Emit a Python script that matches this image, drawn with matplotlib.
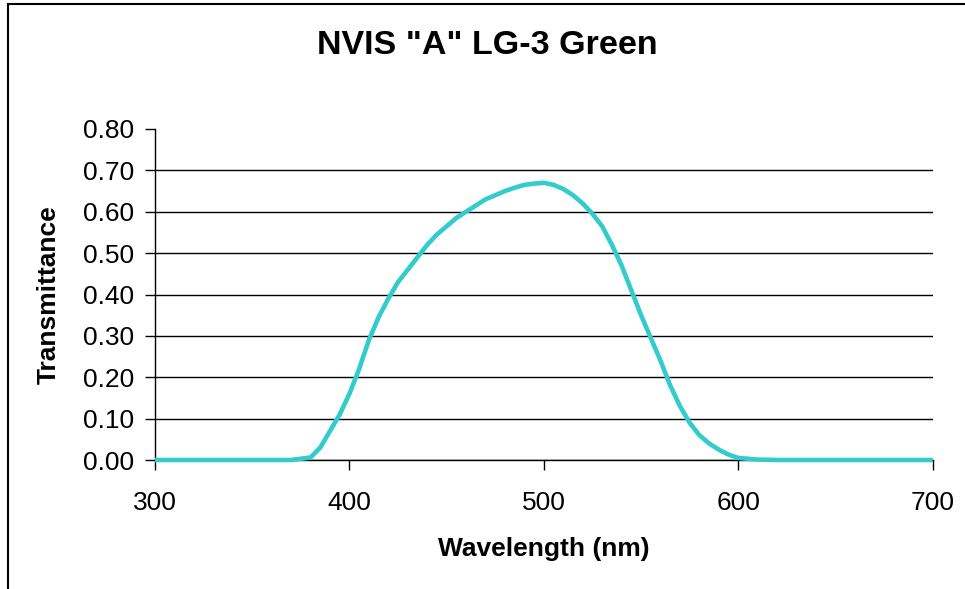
import matplotlib
matplotlib.use('Agg')
import matplotlib.pyplot as plt
from matplotlib.patches import Rectangle

# transmittance curve (5 nm steps over the band)
wavelength = [300, 310, 320, 330, 340, 350, 360, 370, 380, 385,
              390, 395, 400, 405, 410, 415, 420, 425, 430, 435,
              440, 445, 450, 455, 460, 465, 470, 475, 480, 485,
              490, 495, 500, 505, 510, 515, 520, 525, 530, 535,
              540, 545, 550, 555, 560, 565, 570, 575, 580, 585,
              590, 595, 600, 610, 620, 630, 640, 650, 660, 670,
              680, 690, 700]
transmittance = [0.0, 0.0, 0.0, 0.0, 0.0, 0.0, 0.0, 0.0, 0.006, 0.03,
                 0.07, 0.11, 0.16, 0.22, 0.29, 0.345, 0.39, 0.43, 0.46, 0.49,
                 0.52, 0.545, 0.565, 0.585, 0.60, 0.615, 0.63, 0.64, 0.65, 0.658,
                 0.665, 0.668, 0.67, 0.665, 0.655, 0.64, 0.62, 0.595, 0.565, 0.52,
                 0.47, 0.41, 0.35, 0.295, 0.24, 0.18, 0.13, 0.09, 0.06, 0.04,
                 0.025, 0.013, 0.005, 0.001, 0.0, 0.0, 0.0, 0.0, 0.0, 0.0,
                 0.0, 0.0, 0.0]

x_ticks = [300, 400, 500, 600, 700]
y_ticks = [0.0, 0.1, 0.2, 0.3, 0.4, 0.5, 0.6, 0.7, 0.8]

plt.rcParams['font.family'] = ['Liberation Sans', 'DejaVu Sans']

fig = plt.figure(figsize=(9.65, 5.89), dpi=100)
ax = fig.add_axes([155 / 965, 1 - 460 / 589, (932.7 - 155) / 965, (460 - 129) / 589])

ax.plot(wavelength, transmittance, color='#33CCCC', lw=3.3, solid_joinstyle='round',
        solid_capstyle='butt', zorder=3, clip_on=False)

ax.set_xlim(300, 700)
ax.set_ylim(0, 0.8)
ax.set_xticks(x_ticks)
ax.set_yticks(y_ticks)
ax.set_yticklabels(['%.2f' % v for v in y_ticks])
ax.tick_params(axis='both', direction='out', length=7, width=1, colors='black',
               labelsize=19)
ax.tick_params(axis='y', pad=8)
ax.tick_params(axis='x', pad=15)

ax.grid(axis='y', color='black', lw=1)
ax.get_ygridlines()[-1].set_visible(False)
ax.set_axisbelow(True)

for side in ['top', 'right']:
    ax.spines[side].set_visible(False)
for side in ['left', 'bottom']:
    ax.spines[side].set_linewidth(1)
    ax.spines[side].set_color('black')

ax.set_xlabel('Wavelength (nm)', fontsize=19, fontweight='bold', labelpad=16)
ax.set_ylabel('Transmittance', fontsize=19, fontweight='bold', labelpad=16)

fig.text(487 / 965, 1 - 46 / 589, 'NVIS "A" LG-3 Green', fontsize=24.5,
         fontweight='bold', ha='center', va='center')

# chart-area border (only left and top edges fall inside the image)
fig.add_artist(Rectangle((8 / 965, -0.1), 1.2, 1.1 - 4 / 589, transform=fig.transFigure,
                         fill=False, ec='black', lw=1.5))

fig.savefig('out.png', dpi=100)
